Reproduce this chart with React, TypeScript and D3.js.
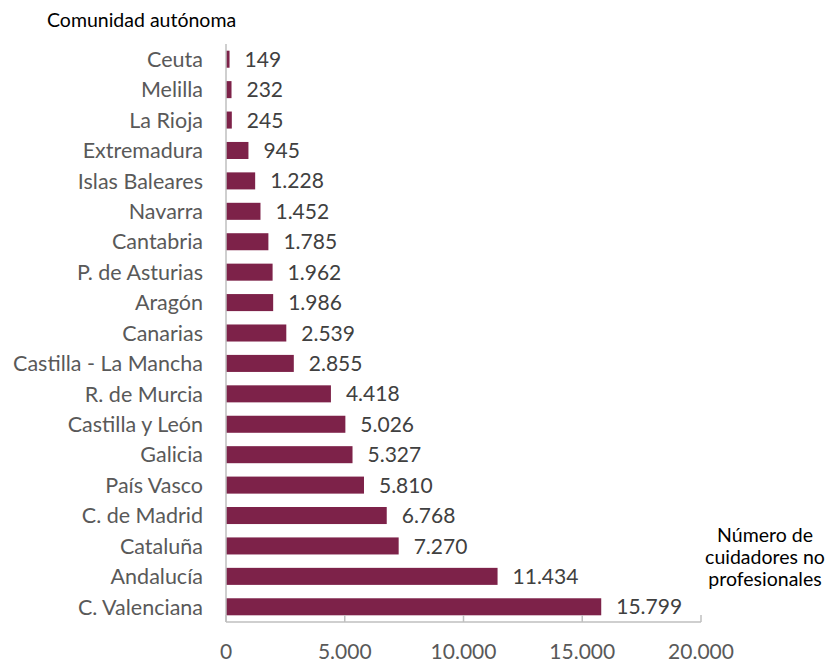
import * as d3 from 'd3';
import React, { useEffect, useRef } from 'react';

const categories = [
  'Ceuta', 'Melilla', 'La Rioja', 'Extremadura', 'Islas Baleares', 'Navarra',
  'Cantabria', 'P. de Asturias', 'Aragón', 'Canarias', 'Castilla - La Mancha',
  'R. de Murcia', 'Castilla y León', 'Galicia', 'País Vasco', 'C. de Madrid',
  'Cataluña', 'Andalucía', 'C. Valenciana',
];
const values = [
  149, 232, 245, 945, 1228, 1452, 1785, 1962, 1986, 2539, 2855,
  4418, 5026, 5327, 5810, 6768, 7270, 11434, 15799,
];
const xTicks = [0, 5000, 10000, 15000, 20000];

const fmt = (v: number) => d3.format(',')(v).replace(/,/g, '.');
const FONT = 'Lato, "Open Sans", sans-serif';

const App = () => {
  const svgRef = useRef<SVGSVGElement>(null);

  useEffect(() => {
    const svg = d3.select(svgRef.current);
    svg.selectAll('*').remove();

    const left = 226;
    const right = 701;
    const top = 44;
    const bottom = 622;

    const x = d3.scaleLinear().domain([0, 20000]).range([left, right]);
    const y = d3
      .scaleBand()
      .domain(categories)
      .range([top, bottom])
      .paddingInner(0.44)
      .paddingOuter(0.22);

    // bars
    svg.selectAll('.bar')
      .data(values)
      .enter()
      .append('rect')
      .attr('class', 'bar')
      .attr('x', x(0))
      .attr('y', (d, i) => y(categories[i]) as number)
      .attr('width', (d) => x(d) - x(0))
      .attr('height', y.bandwidth())
      .attr('fill', '#7d2249');

    // value labels
    svg.selectAll('.val')
      .data(values)
      .enter()
      .append('text')
      .attr('x', (d) => x(d) + 15)
      .attr('y', (d, i) => (y(categories[i]) as number) + y.bandwidth() / 2)
      .attr('dy', '0.36em')
      .attr('font-family', FONT)
      .attr('font-size', 21)
      .attr('fill', '#404040')
      .text((d) => fmt(d));

    // category labels
    svg.selectAll('.cat')
      .data(categories)
      .enter()
      .append('text')
      .attr('x', left - 23)
      .attr('y', (d) => (y(d) as number) + y.bandwidth() / 2)
      .attr('dy', '0.36em')
      .attr('text-anchor', 'end')
      .attr('font-family', FONT)
      .attr('font-size', 21.5)
      .attr('fill', '#595959')
      .text((d) => d);

    // axes lines
    svg.append('line')
      .attr('x1', left).attr('x2', left)
      .attr('y1', top).attr('y2', bottom)
      .attr('stroke', '#bfbfbf').attr('stroke-width', 1.5);
    svg.append('line')
      .attr('x1', left).attr('x2', right)
      .attr('y1', bottom).attr('y2', bottom)
      .attr('stroke', '#bfbfbf').attr('stroke-width', 1.5);

    svg.selectAll('.tick')
      .data(xTicks)
      .enter()
      .append('line')
      .attr('x1', (d) => x(d)).attr('x2', (d) => x(d))
      .attr('y1', bottom - 7).attr('y2', bottom)
      .attr('stroke', '#bfbfbf').attr('stroke-width', 1.5);

    svg.selectAll('.tlabel')
      .data(xTicks)
      .enter()
      .append('text')
      .attr('x', (d) => x(d))
      .attr('y', 659)
      .attr('text-anchor', 'middle')
      .attr('font-family', FONT)
      .attr('font-size', 21)
      .attr('fill', '#595959')
      .text((d) => fmt(d));

    // titles
    svg.append('text')
      .attr('x', 47)
      .attr('y', 27)
      .attr('font-family', FONT)
      .attr('font-size', 19.5)
      .attr('fill', '#000')
      .text('Comunidad autónoma');

    const axisTitle = ['Número de', 'cuidadores no', 'profesionales'];
    svg.selectAll('.atitle')
      .data(axisTitle)
      .enter()
      .append('text')
      .attr('x', 765)
      .attr('y', (d, i) => 542 + i * 22)
      .attr('text-anchor', 'middle')
      .attr('font-family', FONT)
      .attr('font-size', 19.5)
      .attr('fill', '#000')
      .text((d) => d);
  }, []);

  return (
    <svg
      ref={svgRef}
      width={826}
      height={662}
      style={{ position: 'absolute', left: 0, top: 0, background: '#fff' }}
    />
  );
};

export default App;
